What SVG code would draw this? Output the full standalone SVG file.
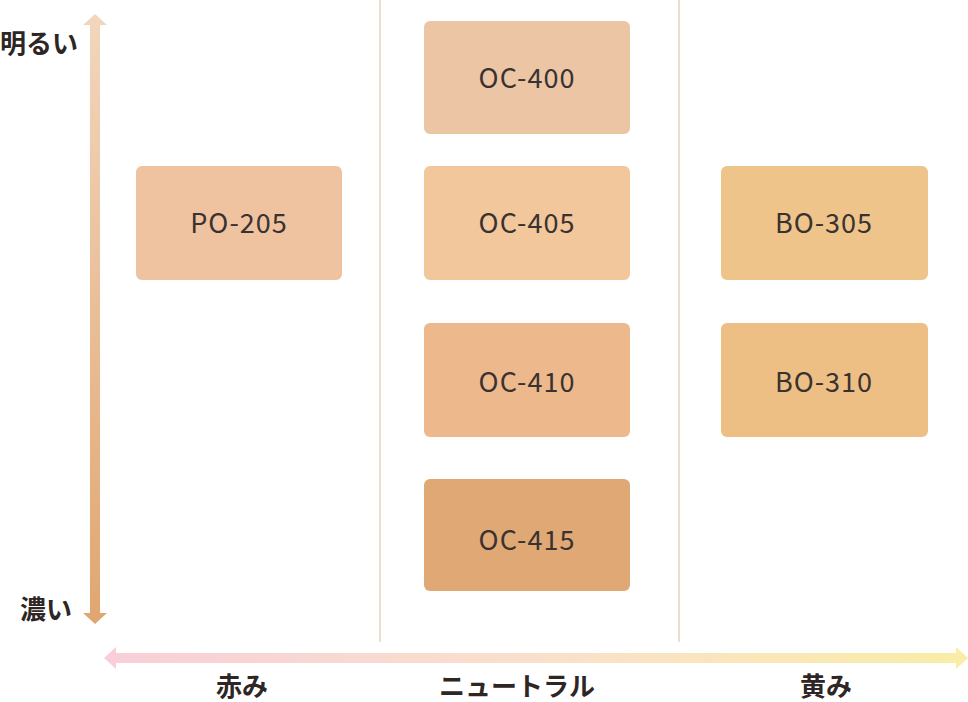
<svg xmlns="http://www.w3.org/2000/svg" width="968" height="702" viewBox="0 0 968 702">
<style>
.n text{font-family:"Noto Sans CJK JP","Noto Sans",sans-serif;font-size:27px;fill:#3a3230;text-anchor:middle;letter-spacing:1px}
.l{font-family:"Noto Sans CJK JP",sans-serif;font-size:26px;font-weight:bold;fill:#2e2624}
.d{stroke:#f0dccb;stroke-width:2}
</style>
<defs>
<linearGradient id="gv" x1="0" y1="0" x2="0" y2="1"><stop offset="0" stop-color="#f2d6bd"/><stop offset="1" stop-color="#e0a670"/></linearGradient>
<linearGradient id="gh" x1="0" y1="0" x2="1" y2="0"><stop offset="0" stop-color="#f8cfd8"/><stop offset="0.5" stop-color="#f9e0cc"/><stop offset="1" stop-color="#f9eda6"/></linearGradient>
</defs>
<g id="connectors">
<line class="d" x1="380" y1="0" x2="380" y2="642"/>
<line class="d" x1="679" y1="0" x2="679" y2="642"/>
<polygon fill="url(#gv)" points="95,14 107,25 100,25 100,613 107,613 95,624 83,613 90,613 90,25 83,25"/>
<polygon fill="url(#gh)" points="104,658 116,647 116,653 956,653 956,647 968,658 956,669 956,663 116,663 116,669"/>
</g>
<g id="labels">
<text class="l" x="0" y="53">明るい</text>
<text class="l" x="20" y="619">濃い</text>
<text class="l" x="242" y="696" text-anchor="middle">赤み</text>
<text class="l" x="517" y="696" text-anchor="middle">ニュートラル</text>
<text class="l" x="826" y="696" text-anchor="middle">黄み</text>
</g>
<g id="PO-205" class="n"><rect x="136" y="166" width="206" height="114" rx="6" fill="#efc2a0"/><text x="239" y="233">PO-205</text></g>
<g id="OC-400" class="n"><rect x="424" y="21" width="206" height="113" rx="6" fill="#ebc5a4"/><text x="527" y="88">OC-400</text></g>
<g id="OC-405" class="n"><rect x="424" y="166" width="206" height="114" rx="6" fill="#f2c79b"/><text x="527" y="233">OC-405</text></g>
<g id="OC-410" class="n"><rect x="424" y="323" width="206" height="114" rx="6" fill="#edb98c"/><text x="527" y="392">OC-410</text></g>
<g id="OC-415" class="n"><rect x="424" y="479" width="206" height="112" rx="6" fill="#e0a874"/><text x="527" y="550">OC-415</text></g>
<g id="BO-305" class="n"><rect x="721" y="166" width="207" height="114" rx="6" fill="#efc48b"/><text x="824" y="233">BO-305</text></g>
<g id="BO-310" class="n"><rect x="721" y="323" width="207" height="114" rx="6" fill="#edbf85"/><text x="824" y="392">BO-310</text></g>
</svg>
